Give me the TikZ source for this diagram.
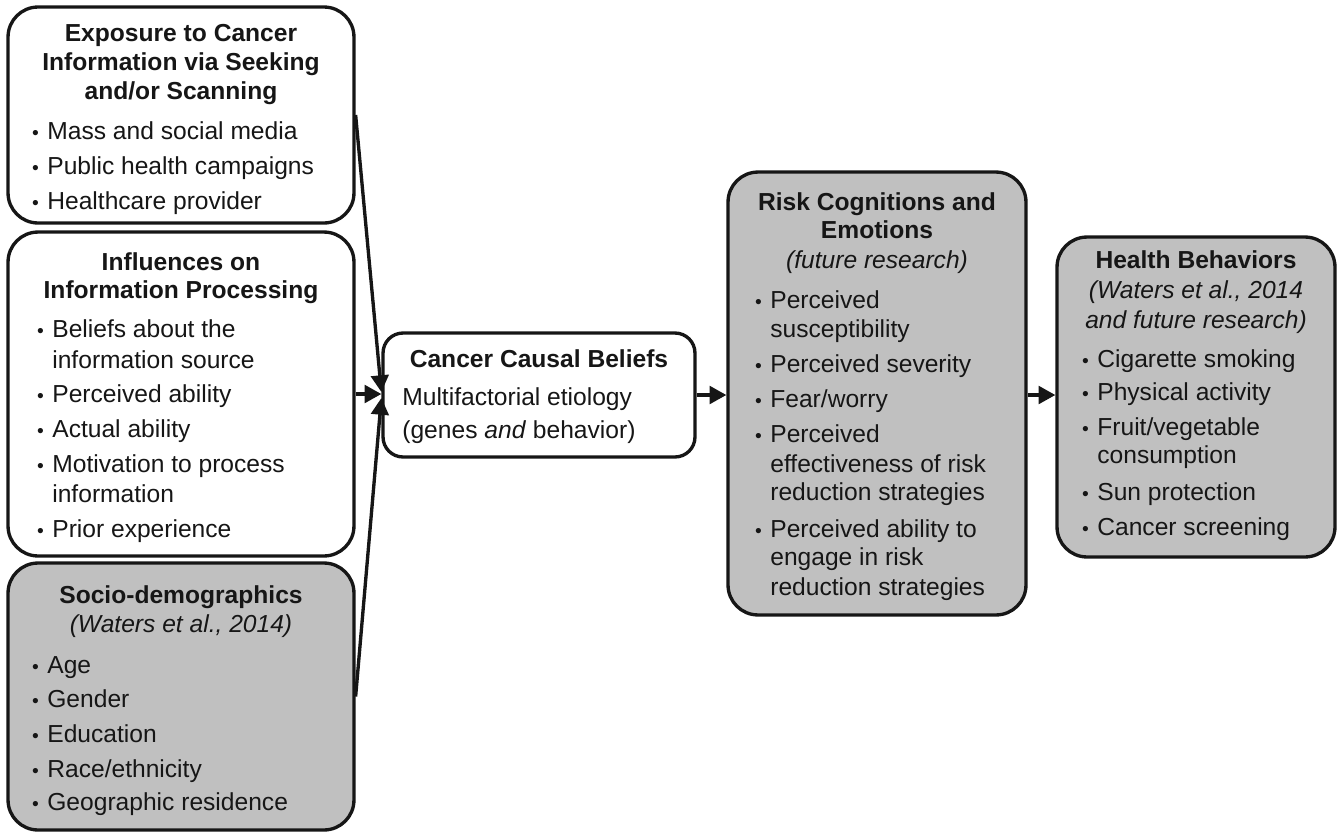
\documentclass[tikz,border=0pt]{standalone}
\usepackage{fontspec}
\setmainfont{Liberation Sans}
\usetikzlibrary{arrows.meta,calc}
\definecolor{boxgray}{RGB}{192,192,192}
\definecolor{ink}{RGB}{22,22,22}
\newcommand\bul{\makebox[0pt][r]{{\fontsize{11pt}{11pt}\selectfont\char"2022}\hspace{0.17cm}}}
\begin{document}
\begin{tikzpicture}[x=0.02cm,y=-0.02cm,
  box/.style={draw=ink, line width=1.9pt, rounded corners=0.6cm, inner sep=0pt, fill=white},
  graybox/.style={box, fill=boxgray},
  txt/.style={inner sep=0pt, text=ink, font=\fontsize{14pt}{17pt}\selectfont},
  ttl/.style={txt, anchor=base, font=\fontsize{14pt}{17pt}\selectfont\bfseries},
  sub/.style={txt, anchor=base, font=\fontsize{14pt}{17pt}\selectfont\itshape},
  lin/.style={txt, anchor=base west},
  arr/.style={draw=ink, line width=1.9pt, -{Triangle[length=9.5pt,width=10pt]}}]
\useasboundingbox (0,0) rectangle (1342,836);

% boxes
\node[box, minimum width=6.92cm, minimum height=4.32cm] (b1) at (181,115) {};
\node[box, minimum width=6.92cm, minimum height=6.48cm] (b2) at (181,394) {};
\node[graybox, minimum width=6.92cm, minimum height=5.34cm] (b3) at (181,696.5) {};
\node[box, rounded corners=0.4cm, minimum width=6.24cm, minimum height=2.48cm] (b4) at (539,395) {};
\node[graybox, minimum width=5.96cm, minimum height=8.86cm] (b5) at (877,393.5) {};
\node[graybox, minimum width=5.56cm, minimum height=6.4cm] (b6) at (1196,397) {};

% box 1
\foreach \y/\t [count=\i] in {41/{Exposure to Cancer}, 70/{Information via Seeking}, 99/{and/or Scanning}}
  \node[ttl] (b1t\i) at (181,\y) {\t};
\foreach \y/\t [count=\i] in {139/{\bul Mass and social media}, 174/{\bul Public health campaigns}, 209/{\bul Healthcare provider}}
  \node[lin] (b1l\i) at (47,\y) {\t};

% box 2
\foreach \y/\t [count=\i] in {270/{Influences on}, 298/{Information Processing}}
  \node[ttl] (b2t\i) at (181,\y) {\t};
\foreach \y/\t [count=\i] in {337/{\bul Beliefs about the}, 368/{information source}, 402/{\bul Perceived ability}, 437/{\bul Actual ability}, 472/{\bul Motivation to process}, 502/{information}, 537/{\bul Prior experience}}
  \node[lin] (b2l\i) at (52,\y) {\t};

% box 3
\node[ttl] (b3t1) at (181,603) {Socio-demographics};
\node[sub] (b3t2) at (181,632) {(Waters et al., 2014)};
\foreach \y/\t [count=\i] in {673/{\bul Age}, 707/{\bul Gender}, 742/{\bul Education}, 777/{\bul Race/ethnicity}, 810/{\bul Geographic residence}}
  \node[lin] (b3l\i) at (47,\y) {\t};

% box 4
\node[ttl] (b4t1) at (539,367) {Cancer Causal Beliefs};
\node[lin] (b4l1) at (402,405) {Multifactorial etiology};
\node[lin] (b4l2) at (402,438) {(genes \textit{and} behavior)};

% box 5
\foreach \y/\t [count=\i] in {210/{Risk Cognitions and}, 238/{Emotions}}
  \node[ttl] (b5t\i) at (877,\y) {\t};
\node[sub] (b5t3) at (877,268) {(future research)};
\foreach \y/\t [count=\i] in {308/{\bul Perceived}, 337/{susceptibility}, 372/{\bul Perceived severity}, 407/{\bul Fear/worry}, 442/{\bul Perceived}, 472/{effectiveness of risk}, 500/{reduction strategies}, 537/{\bul Perceived ability to}, 565/{engage in risk}, 595/{reduction strategies}}
  \node[lin] (b5l\i) at (770,\y) {\t};

% box 6
\node[ttl] (b6t1) at (1196,268) {Health Behaviors};
\node[sub] (b6t2) at (1196,298) {(Waters et al., 2014};
\node[sub] (b6t3) at (1196,328) {and future research)};
\foreach \y/\t [count=\i] in {367/{\bul Cigarette smoking}, 400/{\bul Physical activity}, 435/{\bul Fruit/vegetable}, 463/{consumption}, 500/{\bul Sun protection}, 535/{\bul Cancer screening}}
  \node[lin] (b6l\i) at (1097,\y) {\t};

% connectors
\coordinate (in1) at ($(b4.west)+(0,-3)$);
\coordinate (in3) at ($(b4.west)+(0,3)$);
\draw[arr] (b1.east) -- (in1);
\draw[arr] (b2.east) -- (b2.east -| b4.west);
\draw[arr] (b3.east) -- (in3);
\draw[arr] (b4.east) -- (b4.east -| b5.west);
\draw[arr] (b5.east |- b4.east) -- (b4.east -| b6.west);
\end{tikzpicture}
\end{document}
